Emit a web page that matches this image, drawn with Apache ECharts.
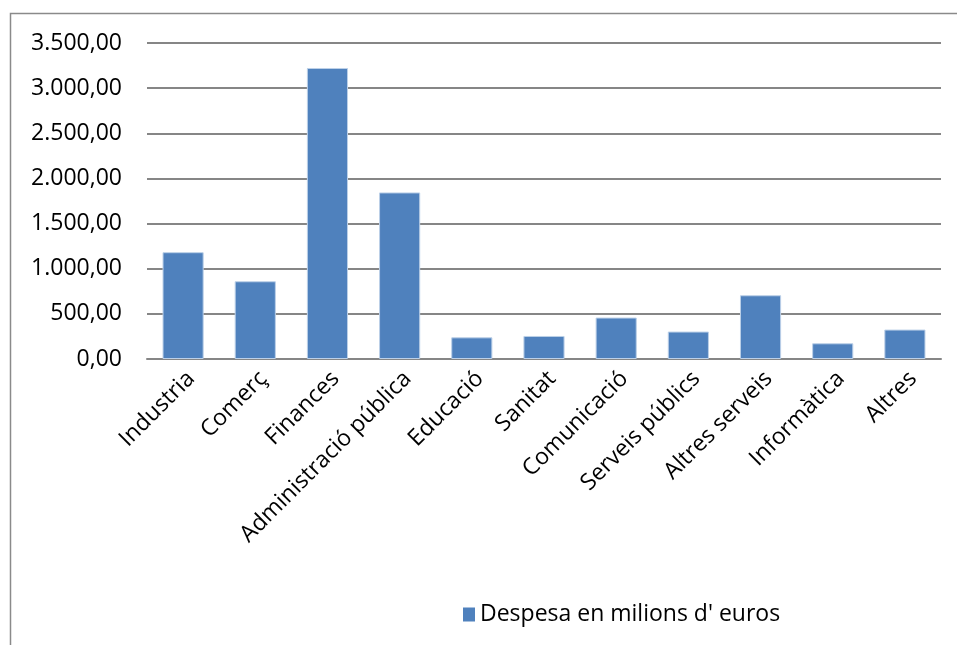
<!DOCTYPE html>
<html lang="ca">
<head>
    <meta charset="UTF-8">
    <title>Despesa en milions d' euros</title>
    <script src="https://cdn.jsdelivr.net/npm/echarts@6/dist/echarts.min.js"></script>
    <style>
        html, body { margin: 0; padding: 0; background: #fff; }
        #main { width: 957px; height: 645px; }
    </style>
</head>
<body>
<div id="main"></div>
<script type="text/javascript">
    // dades llegides del gràfic
    var categories = ['Industria', 'Comerç', 'Finances', 'Administració pública', 'Educació',
        'Sanitat', 'Comunicació', 'Serveis públics', 'Altres serveis', 'Informàtica', 'Altres'];
    var despesa = [1183, 861, 3223, 1845, 240, 255, 459, 304, 706, 174, 326];
    var seriesName = "Despesa en milions d' euros";

    var fontName = '"Open Sans", sans-serif';

    // format 3.500,00
    function fmt(v) {
        var s = Math.round(v).toString().replace(/\B(?=(\d{3})+(?!\d))/g, '.');
        return s + ',00';
    }

    var myChart = echarts.init(document.getElementById('main'));
    var option = {
        animation: false,
        textStyle: { fontFamily: fontName },
        graphic: [{
            type: 'rect',
            shape: { x: 10.5, y: 13.5, width: 980, height: 700 },
            style: { fill: 'none', stroke: '#8a8a8a', lineWidth: 1.5 },
            silent: true
        }],
        grid: { left: 147, right: 16, top: 43, bottom: 286 },
        legend: {
            data: [seriesName],
            left: 458,
            top: 598,
            icon: 'rect',
            itemWidth: 12,
            itemHeight: 14,
            itemGap: 10,
            itemStyle: { borderWidth: 0 },
            textStyle: { color: '#000', fontSize: 23, fontFamily: fontName }
        },
        xAxis: {
            type: 'category',
            data: categories,
            axisLine: { lineStyle: { color: '#868686', width: 2 } },
            axisTick: { show: false },
            axisLabel: { rotate: 45, interval: 0, color: '#000', fontSize: 23, margin: 8, verticalAlign: 'top' }
        },
        yAxis: {
            type: 'value',
            min: 0,
            max: 3500,
            interval: 500,
            axisLine: { show: false },
            axisTick: { show: false },
            splitLine: { lineStyle: { color: '#868686', width: 2 } },
            axisLabel: { color: '#000', fontSize: 23, margin: 25, formatter: fmt }
        },
        series: [{
            name: seriesName,
            type: 'bar',
            data: despesa,
            barWidth: '57%',
            itemStyle: { color: '#4f81bd', borderColor: '#bcd0e8', borderWidth: 1 }
        }]
    };
    myChart.setOption(option);
</script>
</body>
</html>
